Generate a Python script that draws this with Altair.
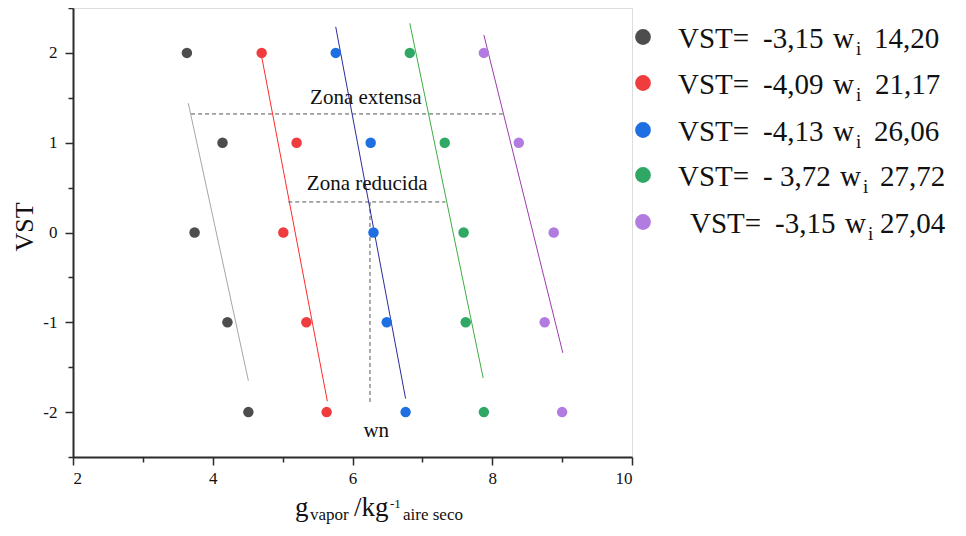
import altair as alt
import pandas as pd

# ---------------- data ----------------
VST_LEVELS = [2, 1, 0, -1, -2]
SERIES = ["A", "B", "C", "D", "E"]
POINT_COLORS = ["#4d4d4d", "#ef3d3f", "#1d6fe2", "#2fa866", "#b27be0"]
LINE_COLORS = ["#a6a6a6", "#ff2a2a", "#2b2b9c", "#3fae3f", "#9d3aad"]

X_A = [3.63, 4.14, 3.74, 4.21, 4.51]
X_B = [4.70, 5.20, 5.01, 5.34, 5.63]
X_C = [5.76, 6.26, 6.30, 6.49, 6.76]
X_D = [6.82, 7.32, 7.59, 7.62, 7.88]
X_E = [7.88, 8.38, 8.88, 8.75, 9.00]

# fitted lines (start / end points as drawn)
LINE_X1 = [3.65, 4.69, 5.76, 6.82, 7.88]
LINE_Y1 = [1.44, 2.00, 2.29, 2.33, 2.20]
LINE_X2 = [4.51, 5.64, 6.76, 7.87, 9.01]
LINE_Y2 = [-1.65, -1.88, -1.85, -1.62, -1.34]

# dashed guide segments
GUIDE_X1 = [3.69, 5.08, 6.25]
GUIDE_Y1 = [1.32, 0.34, 0.34]
GUIDE_X2 = [8.15, 7.33, 6.25]
GUIDE_Y2 = [1.32, 0.34, -1.92]

ANNOT_TEXT = ["Zona extensa", "Zona reducida", "wn"]
ANNOT_X = [6.19, 6.21, 6.34]
ANNOT_Y = [1.43, 0.47, -2.28]

# legend texts
LEG_NUM = ["-3,15", "-4,09", "-4,13", "- 3,72", "-3,15"]
LEG_SUF = ["14,20", "21,17", "26,06", "27,72", "27,04"]

FONT = "Liberation Serif"
W, H = 559, 449
PAD_L, PAD_T = 65, 0

# ---------------- tables ----------------
xs = [X_A, X_B, X_C, X_D, X_E]
pts = pd.DataFrame(
    [
        {"s": SERIES[i], "x": xs[i][j], "y": VST_LEVELS[j], "c": POINT_COLORS[i]}
        for i in range(5)
        for j in range(5)
    ]
)
lines = pd.DataFrame(
    {"x": LINE_X1, "y": LINE_Y1, "x2": LINE_X2, "y2": LINE_Y2, "c": LINE_COLORS}
)
guides = pd.DataFrame({"x": GUIDE_X1, "y": GUIDE_Y1, "x2": GUIDE_X2, "y2": GUIDE_Y2})
annots = pd.DataFrame({"t": ANNOT_TEXT, "x": ANNOT_X, "y": ANNOT_Y})

# legend layout (pixels relative to plot origin)
row_y = [29, 75, 122, 167, 214]
vst_x = [605, 605, 605, 605, 617]
num_x = [690, 690, 690, 690, 702]
w_x = [760, 760, 760, 767, 772]
i_x = [783, 783, 783, 790, 795]
suf_x = [801, 802, 801, 807, 807]

leg_sym = pd.DataFrame({"px": [570] * 5, "py": row_y, "c": POINT_COLORS})
pieces = []
for k in range(5):
    b = row_y[k] + 11
    pieces += [
        {"px": vst_x[k], "py": b, "t": "VST=", "fs": 29},
        {"px": num_x[k], "py": b, "t": LEG_NUM[k], "fs": 29},
        {"px": w_x[k], "py": b, "t": "w", "fs": 29},
        {"px": i_x[k], "py": b + 7, "t": "i", "fs": 19},
        {"px": suf_x[k], "py": b, "t": LEG_SUF[k], "fs": 29},
    ]
# x axis title with sub/superscripts
pieces += [
    {"px": 222, "py": 508, "t": "g", "fs": 27},
    {"px": 237, "py": 512, "t": "vapor", "fs": 17},
    {"px": 281, "py": 508, "t": "/kg", "fs": 27},
    {"px": 317, "py": 500, "t": "-1", "fs": 13},
    {"px": 330, "py": 512, "t": "aire seco", "fs": 17},
]
texts = pd.DataFrame(pieces)
ytitle = pd.DataFrame({"px": [-48], "py": [219], "t": ["VST"]})

# ---------------- scales / axes ----------------
xscale = alt.Scale(domain=[2, 10], nice=False, zero=False)
yscale = alt.Scale(domain=[-2.5, 2.5], nice=False, zero=False)

axis_common = dict(
    grid=False,
    title=None,
    domainColor="#2b2b2b",
    domainWidth=2,
    tickColor="#2b2b2b",
    tickWidth=1.5,
    labelFont=FONT,
    labelFontSize=17,
    labelColor="#111111",
    labelOverlap=False,
)
xaxis = alt.Axis(
    values=[2, 3, 4, 5, 6, 7, 8, 9, 10],
    tickSize={"condition": {"test": "datum.value % 2 === 0", "value": 8}, "value": 5},
    labelExpr="datum.value % 2 === 0 ? datum.value + '' : ''",
    labelPadding=5,
    **axis_common,
)
yaxis = alt.Axis(
    values=[-2.5, -2, -1.5, -1, -0.5, 0, 0.5, 1, 1.5, 2, 2.5],
    tickSize={"condition": {"test": "datum.value % 1 === 0", "value": 8}, "value": 5},
    labelExpr="datum.value % 1 === 0 ? datum.value + '' : ''",
    labelPadding=8,
    **axis_common,
)

base_pts = (
    alt.Chart(pts)
    .mark_circle(size=110, opacity=1)
    .encode(
        x=alt.X("x:Q", scale=xscale, axis=xaxis),
        y=alt.Y("y:Q", scale=yscale, axis=yaxis),
        color=alt.Color("c:N", scale=None),
    )
)

line_layer = (
    alt.Chart(lines)
    .mark_rule(strokeWidth=1)
    .encode(
        x="x:Q",
        y="y:Q",
        x2="x2:Q",
        y2="y2:Q",
        color=alt.Color("c:N", scale=None),
    )
)

guide_layer = (
    alt.Chart(guides)
    .mark_rule(strokeWidth=1, strokeDash=[4, 3], color="#555555")
    .encode(x="x:Q", y="y:Q", x2="x2:Q", y2="y2:Q")
)

annot_layer = (
    alt.Chart(annots)
    .mark_text(font=FONT, fontSize=21, align="center", baseline="alphabetic", color="#111111")
    .encode(x="x:Q", y="y:Q", text="t:N")
)

sym_layer = (
    alt.Chart(leg_sym)
    .mark_circle(size=250, opacity=1)
    .encode(
        x=alt.X("px:Q", scale=None),
        y=alt.Y("py:Q", scale=None),
        color=alt.Color("c:N", scale=None),
    )
)

text_layer = (
    alt.Chart(texts)
    .mark_text(font=FONT, align="left", baseline="alphabetic", color="#111111")
    .encode(
        x=alt.X("px:Q", scale=None),
        y=alt.Y("py:Q", scale=None),
        text="t:N",
        size=alt.Size("fs:Q", scale=None),
    )
)

ytitle_layer = (
    alt.Chart(ytitle)
    .mark_text(font=FONT, fontSize=26, angle=270, align="center", baseline="middle", color="#111111")
    .encode(
        x=alt.X("px:Q", scale=None),
        y=alt.Y("py:Q", scale=None),
        text="t:N",
    )
)

chart = (
    alt.layer(
        guide_layer,
        line_layer,
        base_pts,
        annot_layer,
        sym_layer,
        text_layer,
        ytitle_layer,
    )
    .properties(
        width=W,
        height=H,
        autosize=alt.AutoSizeParams(type="none"),
        padding={"left": PAD_L, "top": PAD_T, "right": 966 - 16 - PAD_L - W, "bottom": 536 - 16 - H},
    )
    .configure_view(stroke=None)
    .configure(background="white")
)

chart.save("out.html", embed_options={"renderer": "svg", "actions": False})
